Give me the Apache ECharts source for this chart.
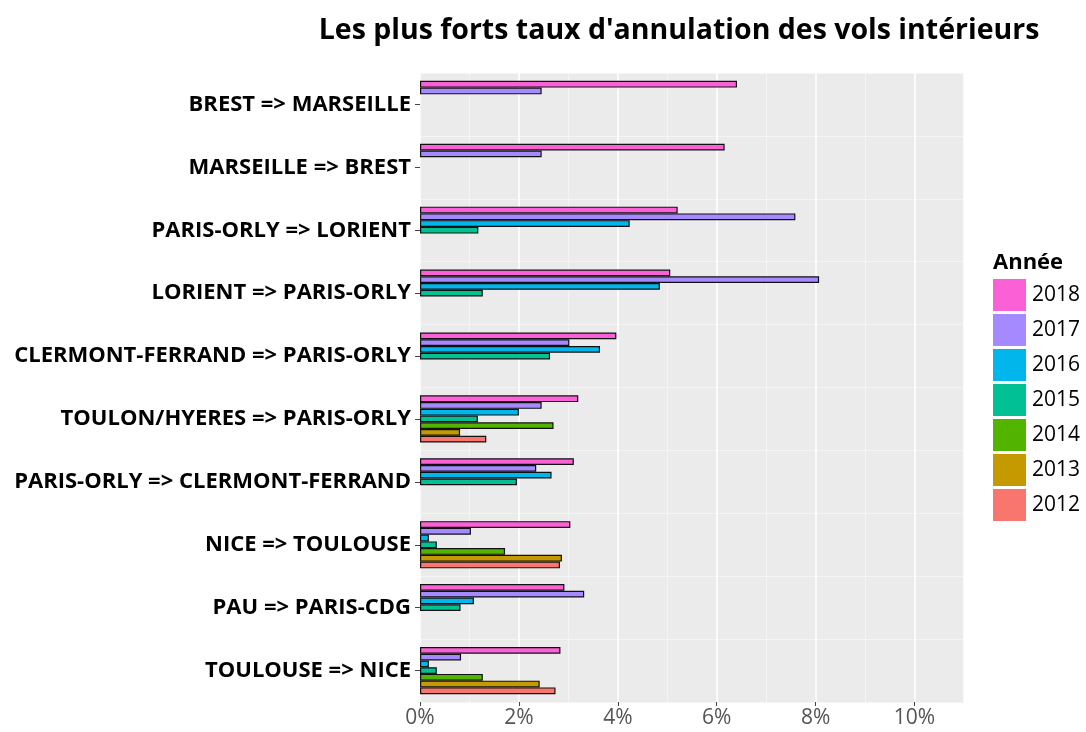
<!DOCTYPE html>
<html>
<head>
<meta charset="utf-8">
<script src="https://cdn.jsdelivr.net/npm/echarts@6/dist/echarts.min.js"></script>
<style>
  html, body { margin: 0; padding: 0; background: #fff; }
  #main { width: 1086px; height: 732px; }
</style>
</head>
<body>
<div id="main"></div>
<script>
// trajets (du haut vers le bas)
var trajets = [
  'BREST => MARSEILLE',
  'MARSEILLE => BREST',
  'PARIS-ORLY => LORIENT',
  'LORIENT => PARIS-ORLY',
  'CLERMONT-FERRAND => PARIS-ORLY',
  'TOULON/HYERES => PARIS-ORLY',
  'PARIS-ORLY => CLERMONT-FERRAND',
  'NICE => TOULOUSE',
  'PAU => PARIS-CDG',
  'TOULOUSE => NICE'
];

// taux d'annulation en %, null = pas de donnée
var taux2018 = [6.41, 6.16, 5.21, 5.06, 3.97, 3.20, 3.11, 3.04, 2.92, 2.84];
var taux2017 = [2.46, 2.46, 7.59, 8.07, 3.02, 2.46, 2.35, 1.03, 3.32, 0.83];
var taux2016 = [null, null, 4.24, 4.85, 3.64, 2.00, 2.66, 0.18, 1.09, 0.18];
var taux2015 = [null, null, 1.18, 1.27, 2.63, 1.17, 1.96, 0.34, 0.82, 0.34];
var taux2014 = [null, null, null, null, null, 2.70, null, 1.72, null, 1.27];
var taux2013 = [null, null, null, null, null, 0.81, null, 2.87, null, 2.42];
var taux2012 = [null, null, null, null, null, 1.34, null, 2.83, null, 2.74];

var annees = ['2018', '2017', '2016', '2015', '2014', '2013', '2012'];
var valeurs = [taux2018, taux2017, taux2016, taux2015, taux2014, taux2013, taux2012];
var couleurs = ['#FB61D7', '#A58AFF', '#00B6EB', '#00C094', '#53B400', '#C49A00', '#F8766D'];

var xTicks = [0, 2, 4, 6, 8, 10];

var police = 'Open Sans';

var myChart = echarts.init(document.getElementById('main'));

var series = annees.map(function (a, i) {
  return {
    name: a,
    type: 'bar',
    data: valeurs[i],
    barGap: '0%',
    barCategoryGap: '25%',
    itemStyle: {
      color: couleurs[i],
      borderColor: '#111',
      borderWidth: 1.2
    },
    emphasis: { disabled: true }
  };
});

var option = {
  animation: false,
  textStyle: { fontFamily: police },
  title: [
    {
      text: "Les plus forts taux d'annulation des vols intérieurs",
      left: 674,
      top: 11,
      textAlign: 'center',
      textStyle: { fontFamily: police, fontSize: 28.5, fontWeight: 'bold', color: '#000' }
    },
    {
      text: 'Année',
      left: 988,
      top: 247,
      textStyle: { fontFamily: police, fontSize: 22, fontWeight: 'bold', color: '#000' }
    }
  ],
  legend: {
    data: annees,
    orient: 'vertical',
    left: 993,
    top: 279,
    padding: 0,
    itemWidth: 33,
    itemHeight: 32,
    itemGap: 3,
    icon: 'rect',
    itemStyle: { borderWidth: 0 },
    textStyle: { fontFamily: police, fontSize: 21, color: '#000', padding: [0, 0, 0, 1] }
  },
  grid: {
    left: 420,
    right: 122,
    top: 73,
    bottom: 30,
    show: true,
    backgroundColor: '#ebebeb',
    borderWidth: 0,
    containLabel: false
  },
  xAxis: {
    type: 'value',
    min: 0,
    max: 11,
    interval: 2,
    axisLine: { show: false },
    axisTick: { show: true, length: 4, lineStyle: { color: '#444' } },
    axisLabel: {
      fontFamily: police,
      fontSize: 21,
      color: '#555',
      margin: 6,
      showMaxLabel: false,
      formatter: function (v) { return xTicks.indexOf(v) >= 0 ? v + '%' : ''; }
    },
    splitLine: { show: true, lineStyle: { color: '#ffffff', width: 1.6 } },
    minorTick: { show: false, splitNumber: 2 },
    minorSplitLine: { show: true, lineStyle: { color: '#f4f4f4', width: 1 } }
  },
  yAxis: {
    type: 'category',
    data: trajets,
    inverse: true,
    axisLine: { show: false },
    axisTick: { show: true, length: 5, alignWithLabel: true, lineStyle: { color: '#444' } },
    axisLabel: {
      fontFamily: police,
      fontSize: 22,
      fontWeight: 'bold',
      color: '#000',
      margin: 9
    },
    splitLine: { show: true, lineStyle: { color: '#f4f4f4', width: 1 } }
  },
  series: series
};

myChart.setOption(option);
</script>
</body>
</html>
